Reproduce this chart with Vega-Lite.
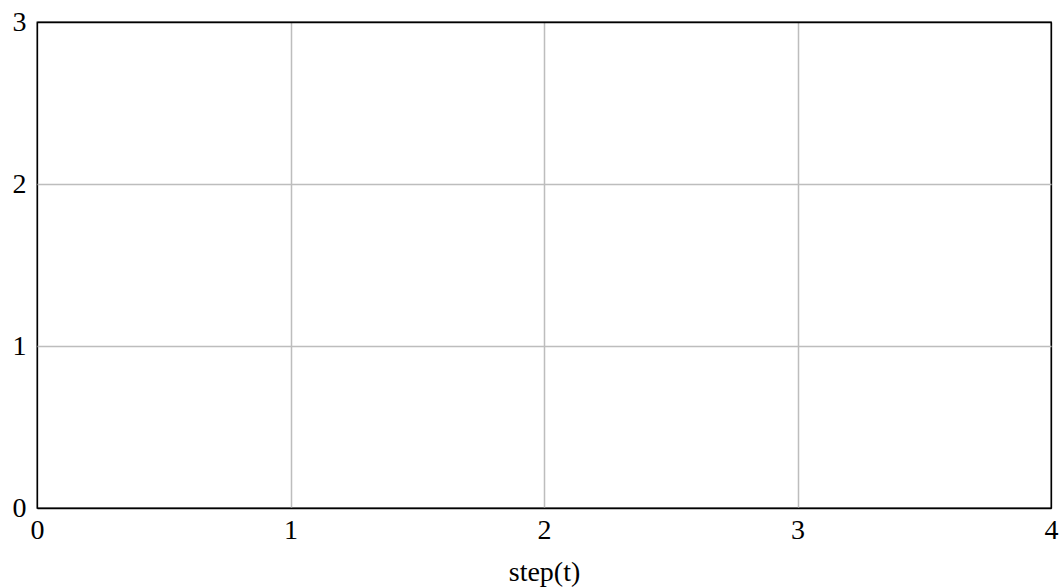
{
  "$schema": "https://vega.github.io/schema/vega-lite/v6.json",
  "width": 1014,
  "height": 486,
  "autosize": {"type": "none"},
  "padding": {"left": 37, "top": 22, "right": 13, "bottom": 79},
  "background": "white",
  "config": {
    "view": {"stroke": "#000", "strokeWidth": 1.3},
    "font": "Liberation Serif"
  },
  "data": {"values": []},
  "mark": {"type": "line"},
  "encoding": {
    "x": {
      "field": "t", "type": "quantitative", "title": "step(t)",
      "scale": {"domain": [0, 4], "nice": false, "zero": false},
      "axis": {
        "values": [0, 1, 2, 3, 4], "format": "d",
        "domain": false, "ticks": false,
        "grid": true,
        "gridColor": {"condition": {"test": "datum.value == 0 || datum.value == 4", "value": "#000"}, "value": "#bdbdbd"},
        "gridWidth": {"condition": {"test": "datum.value == 0 || datum.value == 4", "value": 1.3}, "value": 1.5},
        "gridOpacity": 1,
        "labelFont": "Liberation Serif", "labelFontSize": 28, "labelColor": "#000",
        "labelPadding": 8, "labelFlush": false, "labelOverlap": false,
        "titleFont": "Liberation Serif", "titleFontSize": 28, "titleFontWeight": "normal",
        "titleColor": "#000", "titlePadding": 14
      }
    },
    "y": {
      "field": "v", "type": "quantitative", "title": null,
      "scale": {"domain": [0, 3], "nice": false, "zero": false},
      "axis": {
        "values": [0, 1, 2, 3], "format": "d",
        "domain": false, "ticks": false,
        "grid": true,
        "gridColor": {"condition": {"test": "datum.value == 0 || datum.value == 3", "value": "#000"}, "value": "#bdbdbd"},
        "gridWidth": {"condition": {"test": "datum.value == 0 || datum.value == 3", "value": 1.3}, "value": 1.5},
        "gridOpacity": 1,
        "labelFont": "Liberation Serif", "labelFontSize": 28, "labelColor": "#000",
        "labelPadding": 11, "labelFlush": false, "labelOverlap": false
      }
    }
  }
}
